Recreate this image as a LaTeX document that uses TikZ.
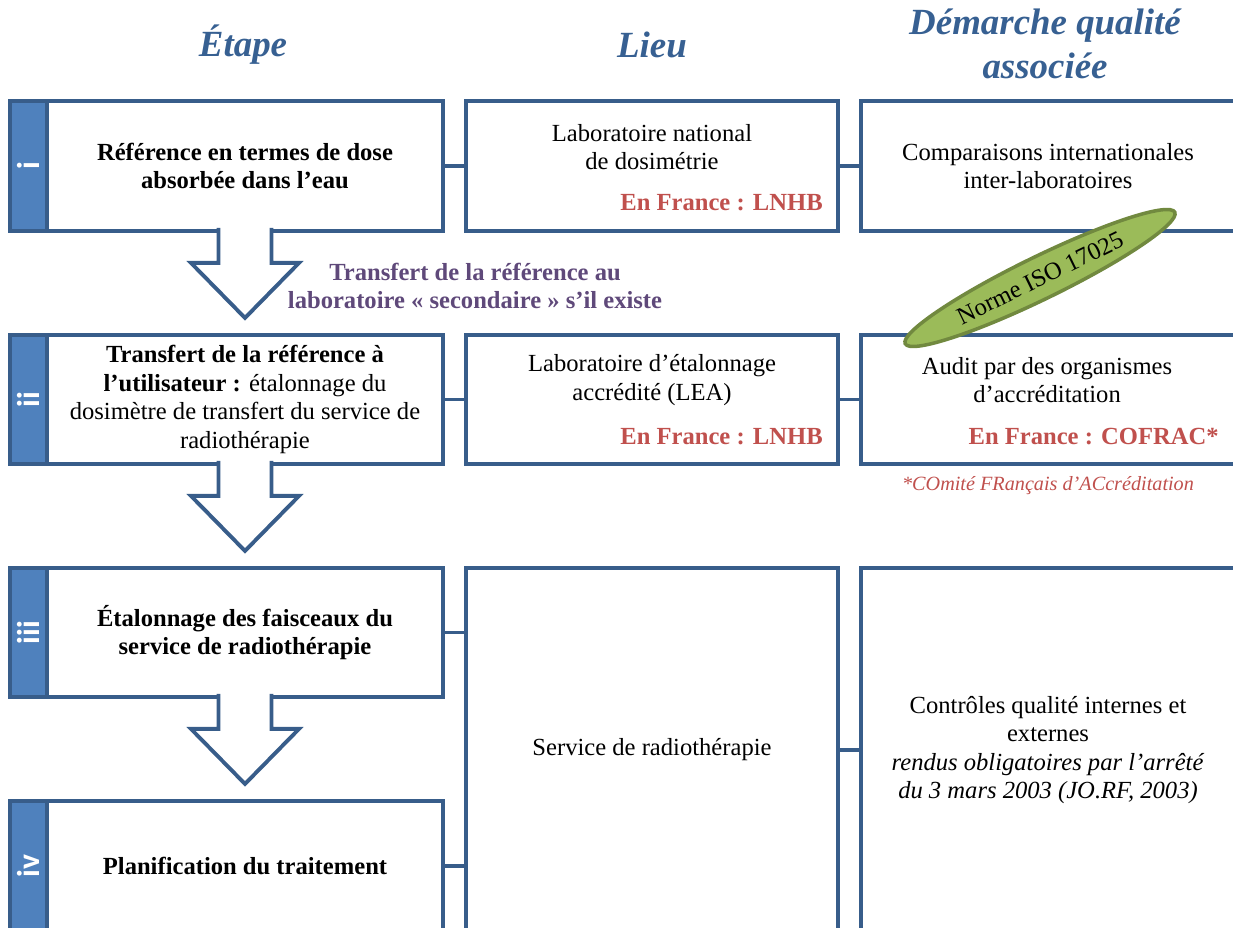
\documentclass[tikz,border=0pt]{standalone}
\usepackage{fontspec}
\setmainfont{Liberation Serif}
\newfontfamily\barfont{Carlito}
\usetikzlibrary{shapes.geometric}

\definecolor{boxblue}{HTML}{385D8A}
\definecolor{barblue}{HTML}{4F81BD}
\definecolor{headblue}{HTML}{376092}
\definecolor{frred}{HTML}{C0504D}
\definecolor{transviolet}{HTML}{5F497A}
\definecolor{isogreen}{HTML}{9BBB59}
\definecolor{isoborder}{HTML}{71893F}

\begin{document}
\begin{tikzpicture}[x=0.02cm, y=-0.02cm,
    box/.style={rectangle, draw=boxblue, line width=2.2pt, fill=white, inner sep=0pt,
        font=\fontsize{14}{16.2}\selectfont, align=center},
    bar/.style={rectangle, draw=boxblue, line width=2.2pt, fill=barblue, minimum width=0.74cm},
    num/.style={text=white, font=\barfont\bfseries\fontsize{18}{18}\selectfont, rotate=90, inner sep=0pt},
    body/.style={font=\fontsize{14}{16.2}\selectfont, align=center, inner sep=0pt},
    head/.style={font=\fontsize{21}{25}\selectfont\bfseries\itshape, text=headblue, align=center},
    fr/.style={font=\fontsize{14}{16.2}\selectfont\bfseries, text=frred, anchor=east, inner sep=0pt},
    link/.style={draw=boxblue, line width=2.2pt},
    bigarrow/.style={draw=boxblue, line width=2.2pt, fill=white}]
    \useasboundingbox (0,0) rectangle (1233,928);
    \clip (0,0) rectangle (1233,928);

    \node[head] (h1) at (243,45) {Étape};
    \node[head] (h2) at (652,45) {Lieu};
    \node[head] (h3) at (1045,44) {Démarche qualité\\associée};

    \node[box, minimum width=7.92cm, minimum height=2.6cm, font=\fontsize{14}{16.2}\selectfont\bfseries] (e1) at (245,166) {Référence en termes de dose\\absorbée dans l’eau};
    \node[box, minimum width=7.92cm, minimum height=2.58cm] (e2) at (245,399.5) {\textbf{Transfert de la référence à}\\\textbf{l’utilisateur :} étalonnage du\\dosimètre de transfert du service de\\radiothérapie};
    \node[box, minimum width=7.92cm, minimum height=2.58cm, font=\fontsize{14}{16.2}\selectfont\bfseries] (e3) at (245,632.5) {Étalonnage des faisceaux du\\service de radiothérapie};
    \node[box, minimum width=7.92cm, minimum height=2.6cm, font=\fontsize{14}{16.2}\selectfont\bfseries] (e4) at (245,866) {Planification du traitement};

    \node[bar, minimum height=2.6cm] (b1) at (28.5,166) {};
    \node[bar, minimum height=2.58cm] (b2) at (28.5,399.5) {};
    \node[bar, minimum height=2.58cm] (b3) at (28.5,632.5) {};
    \node[bar, minimum height=2.6cm] (b4) at (28.5,866) {};
    \node[num] (n1) at (b1.center) {i};
    \node[num] (n2) at (b2.center) {ii};
    \node[num] (n3) at (b3.center) {iii};
    \node[num] (n4) at (b4.center) {iv};

    \node[box, minimum width=7.44cm, minimum height=2.6cm] (l1) at (652,166) {};
    \node[box, minimum width=7.44cm, minimum height=2.58cm] (l2) at (652,399.5) {};
    \node[box, minimum width=7.44cm, minimum height=7.28cm] (l3) at (652,750) {Service de radiothérapie};

    \node[box, minimum width=7.48cm, minimum height=2.6cm] (q1) at (1048,166) {Comparaisons internationales\\inter-laboratoires};
    \node[box, minimum width=7.48cm, minimum height=2.58cm] (q2) at (1048,399.5) {};
    \node[box, minimum width=7.48cm, minimum height=7.28cm] (q3) at (1048,750) {Contrôles qualité internes et\\externes\\\textit{rendus obligatoires par l’arrêté}\\\textit{du 3 mars 2003 (JO.RF, 2003)}};

    \node[body] (l1t) at (652,147) {Laboratoire national\\de dosimétrie};
    \node[fr] (l1f) at (823,203) {En France : LNHB};
    \node[body] (l2t) at (652,380) {Laboratoire d’étalonnage\\accrédité (LEA)};
    \node[fr] (l2f) at (823,437) {En France : LNHB};
    \node[body] (q2t) at (1047,380) {Audit par des organismes\\d’accréditation};
    \node[fr] (q2f) at (1219,437) {En France : COFRAC*};
    \node[body, text=frred, font=\fontsize{11.5}{13}\selectfont\itshape] (fn) at (1048,486) {*COmité FRançais d’ACcréditation};

    \draw[link] (e1.east) -- (l1.west);
    \draw[link] (e2.east) -- (l2.west);
    \draw[link] (e3.east) -- (e3.east -| l3.west);
    \draw[link] (e4.east) -- (e4.east -| l3.west);
    \draw[link] (l1.east) -- (q1.west);
    \draw[link] (l2.east) -- (q2.west);
    \draw[link] (l3.east) -- (q3.west);

    \foreach \a in {e1,e2,e3}
        \filldraw[bigarrow] (\a.south) ++(-26.5,-5) -- ++(0,35) -- ++(-27.5,0) -- ++(54,55) -- ++(54,-55) -- ++(-27.5,0) -- ++(0,-35);

    \node[body, text=transviolet, font=\fontsize{14}{16.2}\selectfont\bfseries] (tr) at (475,286) {Transfert de la référence au\\laboratoire «~secondaire~» s’il existe};

    \node[ellipse, draw=isoborder, fill=isogreen, line width=2pt, minimum width=6cm, minimum height=0.85cm, rotate=26, inner sep=0pt, font=\fontsize{14}{16}\selectfont] (iso) at (1040,278) {Norme ISO 17025};
\end{tikzpicture}
\end{document}
